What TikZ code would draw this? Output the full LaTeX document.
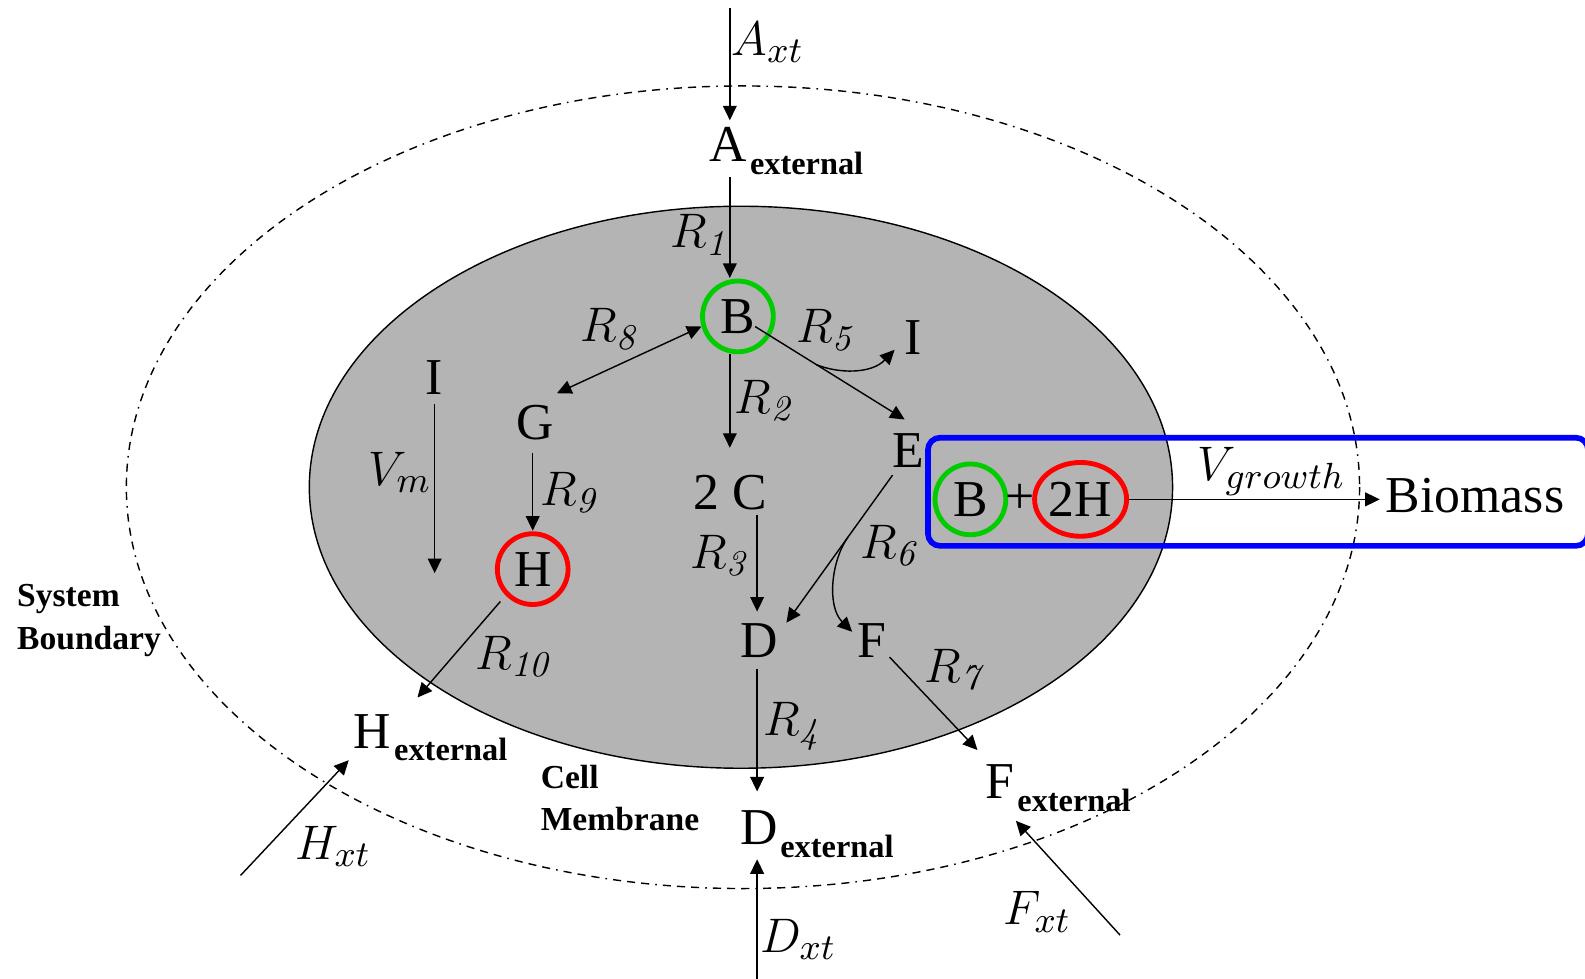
\documentclass[tikz,border=0pt]{standalone}
\usepackage{amsmath}
\usepackage{fontspec}
\setmainfont{Liberation Serif}
\newfontfamily\lmrit[Extension=.otf]{lmroman10-italic}
\usetikzlibrary{arrows.meta,calc,shapes.geometric}
\definecolor{cellgray}{RGB}{180,180,180}
\definecolor{ringgreen}{RGB}{0,204,0}
\definecolor{ringred}{RGB}{255,0,0}
\definecolor{boxblue}{RGB}{0,0,255}
\newcommand\idg[1]{\text{\lmrit #1}}
\begin{document}
\begin{tikzpicture}[x=0.25pt,y=-0.25pt,
  lbl/.style={inner sep=0pt, outer sep=0pt, anchor=base west, font=\fontsize{12.8}{15}\selectfont},
  subx/.style={inner sep=0pt, outer sep=0pt, anchor=base west, font=\fontsize{8}{9}\selectfont\bfseries},
  note/.style={inner sep=0pt, outer sep=0pt, anchor=base west, font=\fontsize{8.3}{10}\selectfont\bfseries},
  ring/.style={circle, draw=#1, line width=1.2pt, minimum size=17.5pt, inner sep=0pt, font=\fontsize{12.8}{15}\selectfont},
  conn/.style={line width=0.35pt},
  arr/.style={conn, -{Triangle[length=3.6pt,width=3.4pt]}},
  darr/.style={conn, {Triangle[length=3.6pt,width=3.4pt]}-{Triangle[length=3.6pt,width=3.4pt]}},
  sysb/.style={line width=0.35pt, dash pattern=on 2pt off 1.5pt on 2pt off 1.5pt on 2pt off 1.5pt on 0.4pt off 1.5pt},
  cellm/.style={fill=cellgray, draw=black, line width=0.35pt},
  hilite/.style={draw=boxblue, line width=1.4pt, rounded corners=3pt}
]
\useasboundingbox (0,0) rectangle (1568,968);
% system boundary and cell membrane
\draw[sysb] (735,482) ellipse [x radius=610, y radius=397];
\draw[cellm] (733,482) ellipse [x radius=427, y radius=278];
% highlight box
\draw[hilite] (918,433) rectangle (1571,540);

% species nodes
\node[lbl] (Aext) at (702,160) {A};
\node[subx] (Aexts) at ($(Aext.base east)+(3,13)$) {external};
\node[ring=ringgreen] (B) at (730,313) {B};
\node[lbl] (G) at (511,435) {G};
\node[lbl] (Ir) at (895,351) {I};
\node[lbl] (E) at (883,462) {E};
\node[lbl] (C2) at (686,504) {2 C};
\node[lbl] (D) at (733,650) {D};
\node[lbl] (F) at (848,650) {F};
\node[ring=ringred] (H) at (527,563) {H};
\node[lbl] (Il) at (421,390) {I};
\node[lbl] (Hext) at (350,740) {H};
\node[subx] (Hexts) at ($(Hext.base east)+(3,12)$) {external};
\node[lbl] (Dext) at (733,835) {D};
\node[subx] (Dexts) at ($(Dext.base east)+(2,13)$) {external};
\node[lbl] (Fext) at (975,790) {F};
\node[subx] (Fexts) at ($(Fext.base east)+(3,13)$) {external};
\node[ring=ringgreen] (Bg) at (960,494) {B};
\node[lbl, anchor=center] (plus) at (1009,494) {+};
\node[ellipse, draw=ringred, line width=1.2pt, minimum width=22.75pt, minimum height=18.25pt, inner sep=0pt, font=\fontsize{12.8}{15}\selectfont] (H2) at (1069,494) {2H};
\node[lbl] (Bio) at (1371,507) {Biomass};

% rate labels
\node[lbl] (Axt) at (724,55) {$A_{xt}$};
\node[lbl] (R1) at (663,245) {$R_{\idg{1}}$};
\node[lbl] (R8) at (574,338) {$R_{\idg{8}}$};
\node[lbl] (R5) at (788,339) {$R_{\idg{5}}$};
\node[lbl] (R2) at (727,409) {$R_{\idg{2}}$};
\node[lbl] (R9) at (535,500) {$R_{\idg{9}}$};
\node[lbl] (Vm) at (365,480) {$V_{m}$};
\node[lbl] (R3) at (683,562) {$R_{\idg{3}}$};
\node[lbl] (R6) at (851,552) {$R_{\idg{6}}$};
\node[lbl] (R7) at (915,675) {$R_{\idg{7}}$};
\node[lbl] (R10) at (470,662) {$R_{\idg{10}}$};
\node[lbl] (R4) at (755,728) {$R_{\idg{4}}$};
\node[lbl] (Hxt) at (292,850) {$H_{xt}$};
\node[lbl] (Dxt) at (752,942) {$D_{xt}$};
\node[lbl] (Fxt) at (993,915) {$F_{xt}$};
\node[lbl] (Vg) at (1185,475) {$V_{growth}$};

% plain labels
\node[note] (Sys) at (17,600) {System};
\node[note] (Bnd) at (17,643) {Boundary};
\node[note] (Cell) at (535,780) {Cell};
\node[note] (Mem) at (535,822) {Membrane};

% free ends
\coordinate (axtop) at (722,8);
\coordinate (dxbot) at (749,968);
\coordinate (fxbot) at (1108,925);
\coordinate (hxbot) at (238,866);
\coordinate (vmend) at (430,567);

% connectors
\draw[arr] (axtop) -- ($(Aext.base west)+(20,-41)$);
\draw[arr] ($(Aext.base west)+(20,15)$) -- ($(B)+(-8,-38)$);
\draw[darr] ($(B)+(-36,10)$) -- ($(G.base west)+(40,-46)$);
\draw[arr] ($(B)+(17,10)$) -- coordinate[pos=0.41] (r5mid) ($(E.base west)+(12,-47)$);
\draw[arr] (r5mid) .. controls ($(r5mid)+(22,9)$) and ($(Ir.base west)+(-33,19)$) .. ($(Ir.base west)+(-10,-5)$);
\draw[arr] ($(B)+(-8,37)$) -- ($(C2.base west)+(36,-61)$);
\draw[arr] ($(G.base west)+(16,13)$) -- ($(H)+(0,-38)$);
\draw[arr] ($(Il.base west)+(9,10)$) -- (vmend);
\draw[arr] ($(C2.base west)+(63,5)$) -- ($(D.base west)+(16,-45)$);
\draw[arr] ($(E.base west)+(0,8)$) -- coordinate[pos=0.42] (r6mid) ($(D.base west)+(45,-34)$);
\draw[arr] (r6mid) .. controls ($(r6mid)+(-17,24)$) and ($(F.base west)+(-30,-50)$) .. ($(F.base west)+(-5,-25)$);
\draw[arr] ($(F.base west)+(32,0)$) -- ($(Fext.base west)+(-8,-48)$);
\draw[arr] ($(D.base west)+(16,12)$) -- ($(Dext.base west)+(16,-52)$);
\draw[arr] (dxbot) -- ($(Dext.base west)+(16,15)$);
\draw[arr] (fxbot) -- ($(Fext.base west)+(30,22)$);
\draw[arr] ($(H)+(-32,32)$) -- ($(Hext.base west)+(63,-50)$);
\draw[arr] (hxbot) -- ($(Hext.base west)+(-5,12)$);
\draw[arr] (H2.east) -- ($(Bio.base west)+(-6,-13)$);
\end{tikzpicture}
\end{document}
